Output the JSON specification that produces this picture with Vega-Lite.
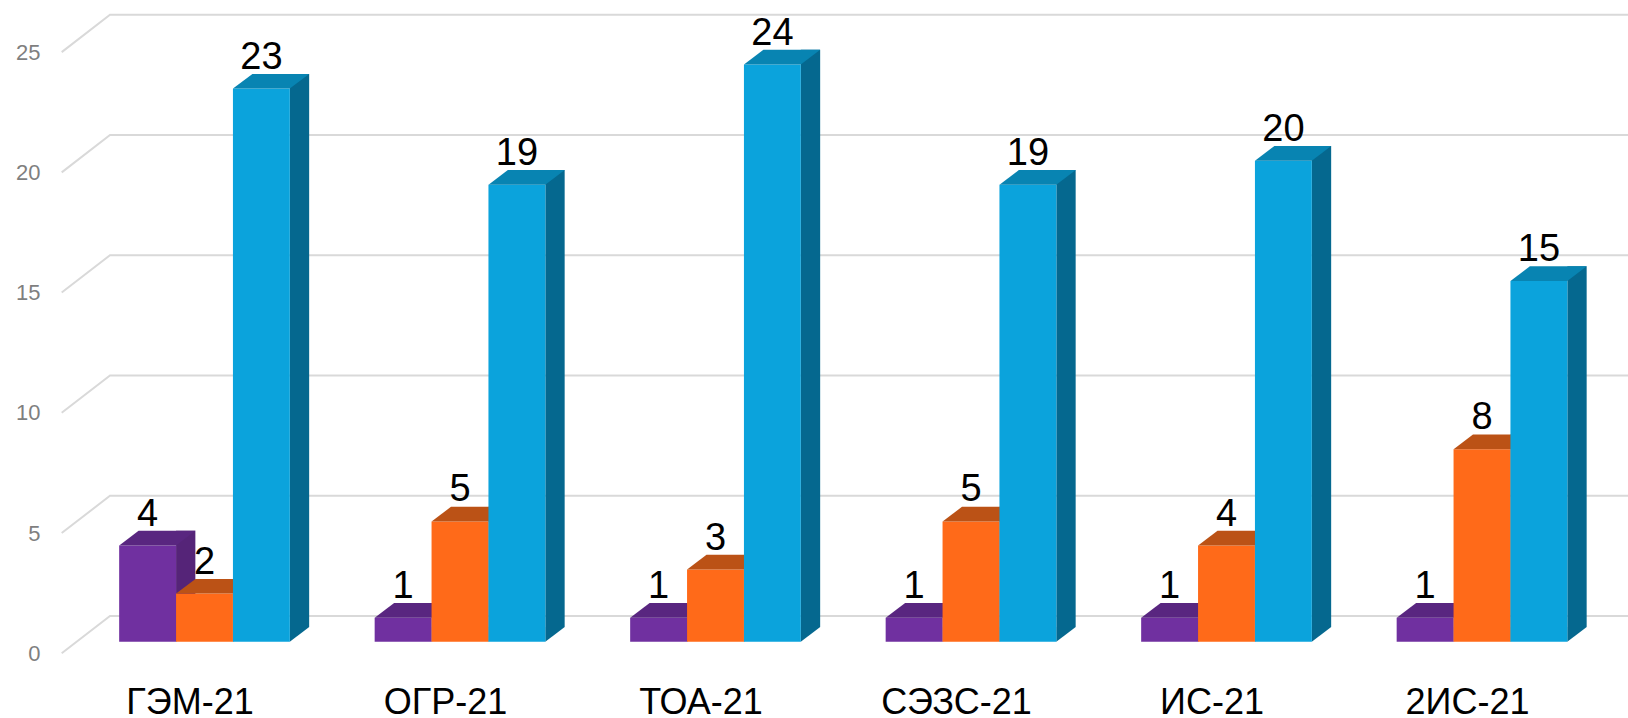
{"$schema":"https://vega.github.io/schema/vega-lite/v6.json","width":1628,"height":718,"padding":0,"autosize":{"type":"none"},"background":"white","view":{"stroke":null},"config":{"font":"Liberation Sans"},
"datasets":{"bars":[
{"group":"ГЭМ-21","series":"Ряд 1","value":4},{"group":"ГЭМ-21","series":"Ряд 2","value":2},{"group":"ГЭМ-21","series":"Ряд 3","value":23},
{"group":"ОГР-21","series":"Ряд 1","value":1},{"group":"ОГР-21","series":"Ряд 2","value":5},{"group":"ОГР-21","series":"Ряд 3","value":19},
{"group":"ТОА-21","series":"Ряд 1","value":1},{"group":"ТОА-21","series":"Ряд 2","value":3},{"group":"ТОА-21","series":"Ряд 3","value":24},
{"group":"СЭЗС-21","series":"Ряд 1","value":1},{"group":"СЭЗС-21","series":"Ряд 2","value":5},{"group":"СЭЗС-21","series":"Ряд 3","value":19},
{"group":"ИС-21","series":"Ряд 1","value":1},{"group":"ИС-21","series":"Ряд 2","value":4},{"group":"ИС-21","series":"Ряд 3","value":20},
{"group":"2ИС-21","series":"Ряд 1","value":1},{"group":"2ИС-21","series":"Ряд 2","value":8},{"group":"2ИС-21","series":"Ряд 3","value":15}],
"ticks":[{"tick":0},{"tick":5},{"tick":10},{"tick":15},{"tick":20},{"tick":25}]},
"layer":[
{"data":{"name":"ticks"},"mark":{"type":"point","shape":"M-142.8,11.6L-94.5,-25.7L1424,-25.7","size":4,"filled":false,"stroke":"#d9d9d9","strokeWidth":2,"opacity":1},
"encoding":{"x":{"datum":"ГЭМ-21","type":"nominal","scale":{"domain":["ГЭМ-21","ОГР-21","ТОА-21","СЭЗС-21","ИС-21","2ИС-21"],"range":[76.75,1609.75],"paddingInner":0.332,"paddingOuter":0.166},"axis":{"title":null,"orient":"bottom","labelAngle":0,"labelOffset":-14.5,"labelPadding":-4.5,"labelBaseline":"alphabetic","labelFontSize":36,"labelColor":"#000000","labelFont":"Liberation Sans","ticks":false,"domain":false,"grid":false}},
"y":{"field":"tick","type":"quantitative","scale":{"domain":[0,25],"range":[641.7,40.5],"nice":false},"axis":{"title":null,"orient":"left","values":[0,5,10,15,20,25],"labelAlign":"right","labelPadding":-40,"labelOffset":11.6,"labelFontSize":22,"labelColor":"#7f7f7f","labelFont":"Liberation Sans","ticks":false,"domain":false,"grid":false}}}},
{"data":{"name":"bars"},
"resolve":{"scale":{"xOffset":"independent"}},
"encoding":{"x":{"field":"group","type":"nominal","sort":null},"xOffset":{"field":"series","type":"nominal","scale":{"domain":["Ряд 1","Ряд 2","Ряд 3"]}},"y":{"field":"value","type":"quantitative"}},
"layer":[
{"mark":{"type":"rule","color":"#552478","strokeWidth":19.3,"yOffset":-14.7,"y2Offset":-14.7},"transform":[{"filter":"datum.series==='Ряд 1'"}],"encoding":{"xOffset":{"field":"series","type":"nominal","scale":{"domain":["Ряд 1","Ряд 2","Ряд 3"],"range":[38.1,208.8]}},"y2":{"datum":0}}},
{"mark":{"type":"point","shape":"M28.4,0L47.8,-14.7L28.4,-14.7Z","size":4,"filled":true,"fill":"#552478","stroke":null,"opacity":1},"transform":[{"filter":"datum.series==='Ряд 1'"}],"encoding":{"y":{"datum":0,"type":"quantitative"}}},
{"mark":{"type":"bar","color":"#7030A0"},"transform":[{"filter":"datum.series==='Ряд 1'"}]},
{"mark":{"type":"point","shape":"M-28.4,0L28.4,0L47.8,-14.7L-9,-14.7Z","size":4,"filled":true,"fill":"#592680","stroke":null,"opacity":1},"transform":[{"filter":"datum.series==='Ряд 1'"}]},
{"mark":{"type":"rule","color":"#B84F14","strokeWidth":19.3,"yOffset":-14.7,"y2Offset":-14.7},"transform":[{"filter":"datum.series==='Ряд 2'"}],"encoding":{"xOffset":{"field":"series","type":"nominal","scale":{"domain":["Ряд 1","Ряд 2","Ряд 3"],"range":[38.1,208.8]}},"y2":{"datum":0}}},
{"mark":{"type":"point","shape":"M28.4,0L47.8,-14.7L28.4,-14.7Z","size":4,"filled":true,"fill":"#B84F14","stroke":null,"opacity":1},"transform":[{"filter":"datum.series==='Ряд 2'"}],"encoding":{"y":{"datum":0,"type":"quantitative"}}},
{"mark":{"type":"bar","color":"#FF6A19"},"transform":[{"filter":"datum.series==='Ряд 2'"}]},
{"mark":{"type":"point","shape":"M-28.4,0L28.4,0L47.8,-14.7L-9,-14.7Z","size":4,"filled":true,"fill":"#BB5216","stroke":null,"opacity":1},"transform":[{"filter":"datum.series==='Ряд 2'"}]},
{"mark":{"type":"rule","color":"#05688F","strokeWidth":19.3,"yOffset":-14.7,"y2Offset":-14.7},"transform":[{"filter":"datum.series==='Ряд 3'"}],"encoding":{"xOffset":{"field":"series","type":"nominal","scale":{"domain":["Ряд 1","Ряд 2","Ряд 3"],"range":[38.1,208.8]}},"y2":{"datum":0}}},
{"mark":{"type":"point","shape":"M28.4,0L47.8,-14.7L28.4,-14.7Z","size":4,"filled":true,"fill":"#05688F","stroke":null,"opacity":1},"transform":[{"filter":"datum.series==='Ряд 3'"}],"encoding":{"y":{"datum":0,"type":"quantitative"}}},
{"mark":{"type":"bar","color":"#0BA3DC"},"transform":[{"filter":"datum.series==='Ряд 3'"}]},
{"mark":{"type":"point","shape":"M-28.4,0L28.4,0L47.8,-14.7L-9,-14.7Z","size":4,"filled":true,"fill":"#0884B2","stroke":null,"opacity":1},"transform":[{"filter":"datum.series==='Ряд 3'"}]},
{"mark":{"type":"text","font":"Liberation Sans","fontSize":38,"color":"#000000","align":"center","baseline":"alphabetic","dy":-20},"encoding":{"text":{"field":"value","type":"quantitative"}}}
]}
]}
